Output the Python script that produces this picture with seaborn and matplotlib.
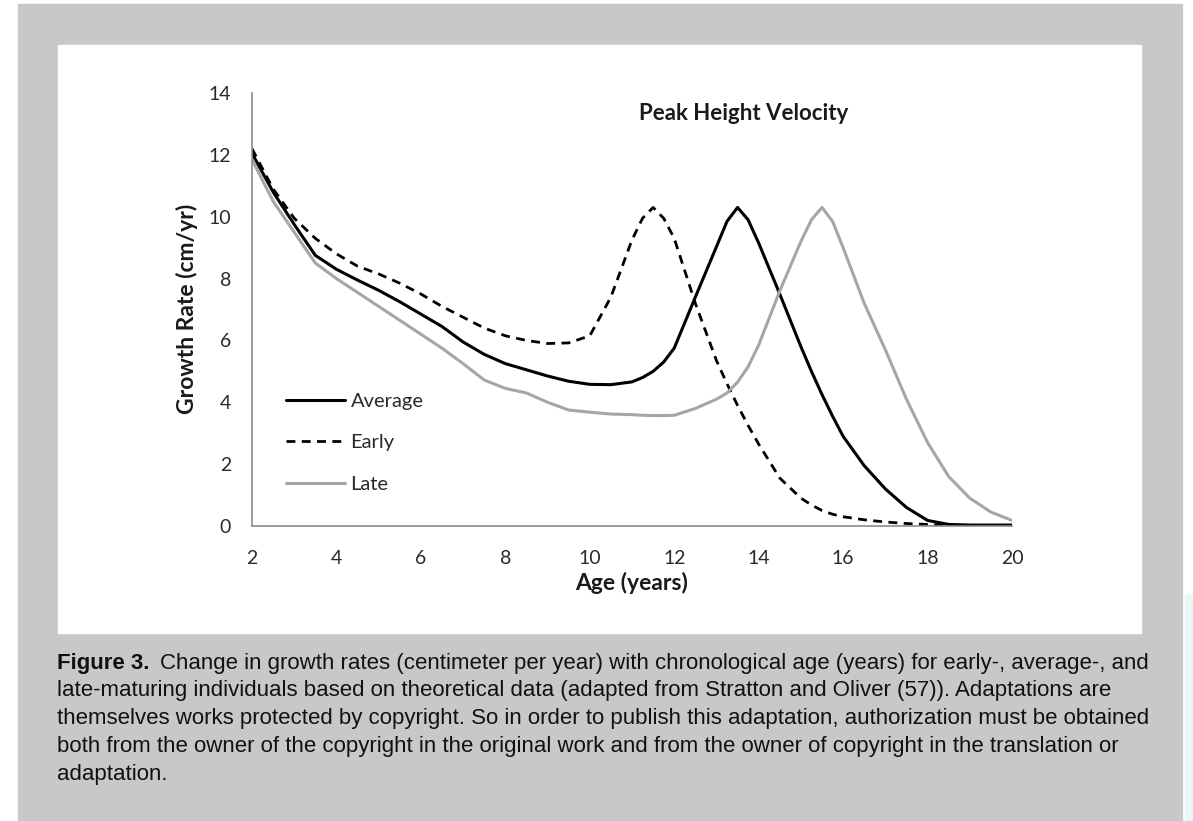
import numpy as np
import pandas as pd
import matplotlib
matplotlib.use('Agg')
import matplotlib.pyplot as plt
import seaborn as sns
from matplotlib.patches import Rectangle

sns.set_style('white')
plt.rcParams['font.family'] = ['Lato', 'DejaVu Sans']

# data (cm/yr vs age)
ages = [2, 2.5, 3, 3.5, 4, 4.5, 5, 5.5, 6, 6.5, 7, 7.5, 8, 8.5, 9, 9.5, 10, 10.5,
        11, 11.25, 11.5, 11.75, 12, 12.5, 13, 13.25, 13.5, 13.75, 14, 14.5, 15,
        15.25, 15.5, 15.75, 16, 16.5, 17, 17.5, 18, 18.5, 19, 19.5, 20]
average = [12.05, 10.8, 9.75, 8.75, 8.3, 7.95, 7.62, 7.25, 6.85, 6.45, 5.95, 5.55,
           5.25, 5.05, 4.85, 4.68, 4.58, 4.57, 4.66, 4.8, 5.0, 5.3, 5.75, 7.4, 9.03,
           9.85, 10.3, 9.9, 9.15, 7.5, 5.8, 5.0, 4.25, 3.55, 2.9, 1.95, 1.2, 0.6,
           0.18, 0.05, 0.03, 0.03, 0.03]
early = [12.2, 10.9, 9.95, 9.3, 8.8, 8.4, 8.15, 7.85, 7.5, 7.1, 6.75, 6.4,
         6.15, 6.0, 5.9, 5.92, 6.15, 7.4, 9.25, 9.95, 10.3, 9.95, 9.3, 7.2, 5.35,
         4.6, 3.9, 3.25, 2.65, 1.55, 0.9, 0.68, 0.5, 0.38, 0.3, 0.2, 0.13, 0.08,
         0.05, 0.03, 0.02, 0.02, 0.02]
late = [11.85, 10.5, 9.5, 8.5, 8.0, 7.55, 7.1, 6.65, 6.2, 5.75, 5.25, 4.72,
        4.45, 4.3, 4.0, 3.75, 3.68, 3.62, 3.6, 3.58, 3.57, 3.57, 3.58, 3.8, 4.1,
        4.3, 4.65, 5.15, 5.85, 7.6, 9.2, 9.9, 10.3, 9.85, 9.0, 7.2, 5.7, 4.1,
        2.7, 1.6, 0.9, 0.45, 0.18]

caption_lines = [
    'Change in growth rates (centimeter per year) with chronological age (years) for early-, average-, and',
    'late-maturing individuals based on theoretical data (adapted from Stratton and Oliver (57)). Adaptations are',
    'themselves works protected by copyright. So in order to publish this adaptation, authorization must be obtained',
    'both from the owner of the copyright in the original work and from the owner of copyright in the translation or',
    'adaptation.',
]

W, H = 1193, 821
fig = plt.figure(figsize=(W / 100, H / 100), dpi=100)
fig.patch.set_facecolor('white')


def px_rect(x0, y0, x1, y1, color):
    fig.patches.append(Rectangle((x0 / W, 1 - y1 / H), (x1 - x0) / W, (y1 - y0) / H,
                                 transform=fig.transFigure, color=color, zorder=-10))


px_rect(18, 4, 1182, 821, '#c8c8c8')
px_rect(58, 45, 1141, 633, 'white')
px_rect(1185, 595, 1193, 821, '#eaf5f6')

ax = fig.add_axes([252 / W, 1 - 526 / H, 760 / W, 433 / H])
ax.set_facecolor('white')

df = pd.DataFrame({'age': ages, 'Average': average, 'Early': early, 'Late': late})
sns.lineplot(data=df, x='age', y='Average', ax=ax, color='black', lw=2.2, label='Average')
sns.lineplot(data=df, x='age', y='Early', ax=ax, color='black', lw=2.0, label='Early')
ax.lines[-1].set_dashes((3.2, 2.3))
sns.lineplot(data=df, x='age', y='Late', ax=ax, color='#a6a6a6', lw=2.2, label='Late')
for ln in ax.lines:
    ln.set_solid_joinstyle('round')
    ln.set_dash_joinstyle('round')

ax.set_xlim(2, 20)
ax.set_ylim(0, 14)
ax.set_xticks(range(2, 21, 2))
ax.set_yticks(range(0, 15, 2))
ax.set_xlabel('')
ax.set_ylabel('')
for s in ['top', 'right']:
    ax.spines[s].set_visible(False)
for s in ['left', 'bottom']:
    ax.spines[s].set_color('#8c8c8c')
    ax.spines[s].set_linewidth(1.2)
ax.tick_params(axis='both', which='major', direction='out', length=5, width=1.1,
               color='#8c8c8c', labelsize=14, labelcolor='#2a2a2a')
ax.tick_params(axis='y', pad=10)
ax.tick_params(axis='x', pad=12)

leg = ax.legend(loc='upper left', bbox_to_anchor=(268 / W, 1 - 375 / H),
                bbox_transform=fig.transFigure, frameon=False, fontsize=14.5,
                handlelength=2.9, handletextpad=0.3, labelspacing=1.2)
for t in leg.get_texts():
    t.set_color('#2a2a2a')

fig.text(744 / W, 1 - 113 / H, 'Peak Height Velocity', ha='center', va='center',
         fontsize=16, fontweight='bold', color='#1a1a1a')
fig.text(632 / W, 1 - 583 / H, 'Age (years)', ha='center', va='center',
         fontsize=16.5, fontweight='bold', color='#1a1a1a')
fig.text(187 / W, 1 - 309 / H, 'Growth Rate (cm/yr)', ha='center', va='center',
         rotation=90, fontsize=16.5, fontweight='bold', color='#1a1a1a')

# caption
cap_font = 'Liberation Sans'
cap_size = 16.0
y0 = 663
fig.canvas.draw()
renderer = fig.canvas.get_renderer()
for i, line in enumerate(caption_lines):
    y = 1 - (y0 + i * 27.8) / H
    x = 57 / W
    if i == 0:
        tb = fig.text(x, y, 'Figure 3.', ha='left', va='center', fontsize=cap_size,
                      fontweight='bold', family=cap_font, color='#111111')
        bb = tb.get_window_extent(renderer)
        x = (bb.x1 + 10) / W
    fig.text(x, y, line, ha='left', va='center', fontsize=cap_size,
             family=cap_font, color='#111111')

fig.savefig('out.png', dpi=100)
